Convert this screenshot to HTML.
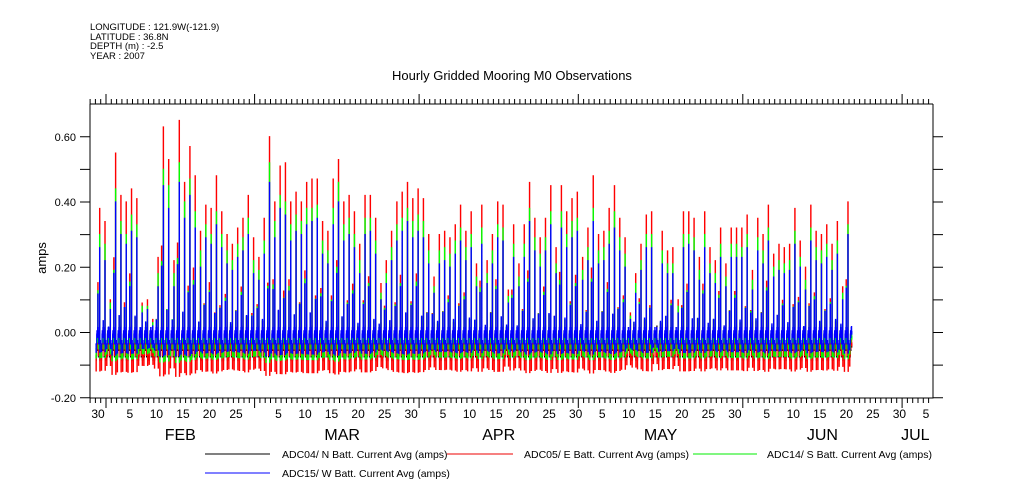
<!DOCTYPE html>
<html><head><meta charset="utf-8"><style>
body{margin:0;background:#fff;}
svg{display:block;font-family:"Liberation Sans",sans-serif;}
</style></head><body>
<svg id="chart" width="1009" height="504" viewBox="0 0 1009 504">
<g font-size="9.5" fill="#000">
<text x="90" y="30">LONGITUDE : 121.9W(-121.9)</text>
<text x="90" y="40">LATITUDE : 36.8N</text>
<text x="90" y="49">DEPTH (m) : -2.5</text>
<text x="90" y="59">YEAR : 2007</text>
</g>
<text x="512" y="80" font-size="13" text-anchor="middle">Hourly Gridded Mooring M0 Observations</text>
<text x="0" y="0" font-size="13" text-anchor="middle" transform="translate(46,258) rotate(-90)">amps</text>
<g id="series"></g>
<g id="axes"></g>
<g font-size="10.5">
<line x1="205" y1="454" x2="270" y2="454" stroke="#000" stroke-width="1"/>
<text x="282" y="458">ADC04/ N Batt. Current Avg (amps)</text>
<line x1="447" y1="454" x2="513" y2="454" stroke="#e00" stroke-width="1"/>
<text x="524" y="458">ADC05/ E Batt. Current Avg (amps)</text>
<line x1="693" y1="454" x2="757" y2="454" stroke="#0e0" stroke-width="1"/>
<text x="767" y="458">ADC14/ S Batt. Current Avg (amps)</text>
<line x1="205" y1="473" x2="270" y2="473" stroke="#00f" stroke-width="1"/>
<text x="282" y="477">ADC15/ W Batt. Current Avg (amps)</text>
</g>
</svg>
<script>
// Daily peak values (amps), day 0 = Jan 30 2007
const redPeak=[.38,.34,.10,.55,.42,.40,.44,.41,.09,.10,
.04,.23,.63,.53,.22,.65,.46,.57,.48,.31,
.39,.38,.48,.37,.30,.27,.32,.35,.42,.29,
.23,.35,.60,.40,.51,.52,.40,.43,.40,.46,
.47,.47,.34,.31,.47,.53,.40,.42,.37,.27,
.42,.42,.35,.15,.22,.31,.40,.43,.46,.41,
.44,.41,.30,.17,.30,.31,.29,.33,.39,.31,
.37,.21,.39,.22,.30,.40,.39,.13,.33,.21,
.33,.46,.35,.29,.35,.45,.26,.45,.37,.41,
.43,.23,.32,.48,.30,.31,.38,.45,.35,.29,
.06,.18,.27,.36,.37,-.02,.31,.25,.26,.10,
.37,.37,.35,.23,.37,.26,.22,.32,.21,.32,
.32,.32,.36,.19,.35,.30,.39,.24,.27,.26,
.27,.38,.28,.20,.39,.31,.30,.33,.27,.34,
.14,.40,.13];
const greenPeak=[.30,.27,.09,.44,.34,.30,.36,.33,.08,.08,
.03,.18,.50,.45,.18,.52,.40,.47,.37,.25,
.33,.30,.37,.30,.25,.22,.27,.29,.35,.22,
.19,.28,.52,.34,.42,.40,.33,.36,.34,.38,
.38,.39,.28,.25,.38,.46,.33,.35,.30,.22,
.35,.35,.28,.12,.18,.26,.33,.35,.38,.34,
.36,.34,.25,.14,.25,.26,.24,.28,.32,.26,
.30,.17,.32,.18,.25,.33,.32,.11,.27,.17,
.27,.38,.29,.24,.29,.37,.21,.37,.30,.34,
.35,.19,.26,.38,.25,.26,.31,.37,.29,.24,
.05,.15,.22,.30,.30,-.02,.25,.21,.21,.08,
.30,.30,.29,.19,.30,.21,.18,.27,.17,.27,
.27,.26,.30,.16,.29,.25,.32,.20,.22,.21,
.22,.31,.23,.16,.32,.26,.25,.27,.22,.28,
.12,.33,.10];
const bluePeak=[.26,.22,.07,.40,.30,.27,.31,.29,.06,.07,
.02,.14,.45,.38,.14,.46,.35,.42,.32,.20,
.29,.27,.33,.26,.21,.19,.23,.25,.30,.18,
.16,.24,.46,.29,.38,.36,.28,.31,.30,.33,
.34,.35,.24,.21,.33,.40,.28,.30,.26,.18,
.30,.31,.24,.10,.15,.22,.28,.31,.34,.29,
.31,.29,.21,.12,.21,.22,.20,.24,.28,.22,
.26,.14,.27,.15,.21,.29,.28,.09,.23,.14,
.23,.34,.25,.20,.25,.33,.18,.32,.26,.29,
.31,.16,.22,.34,.21,.22,.27,.32,.25,.20,
.04,.12,.19,.26,.26,-.03,.21,.18,.18,.06,
.26,.27,.25,.16,.26,.18,.15,.23,.14,.23,
.23,.23,.26,.13,.25,.21,.28,.17,.19,.18,
.19,.27,.20,.13,.28,.22,.21,.23,.19,.24,
.10,.30,.13];
const blackPeak=[.02,.01,.00,.03,.02,.02,.02,.02,.00,.00];
const baseValues=[-0.075,-0.07,-0.05,-0.035]; // black, red, green, blue
const dipValues=[-0.085,-0.095,-0.06,-0.045];
const yTicks=[-0.2,0.0,0.2,0.4,0.6];
const yTickLabels=["-0.20","0.00","0.20","0.40","0.60"];
const dayLabels=["30","5","10","15","20","25","5","10","15","20","25","30","5","10","15","20","25","30","5","10","15","20","25","30","5","10","15","20","25","30","5"];
const dayLabelDates=[-2,4,9,14,19,24,32,37,42,47,52,57,63,68,73,78,83,88,93,98,103,108,113,118,124,129,134,139,144,149,154];
const monthNames=["FEB","MAR","APR","MAY","JUN","JUL"];
const monthStarts=[0,28,59,89,120,150]; // days from Feb 1
const monthLabelPos=[14,30+14.5,59+15,89+15.5,120+15,152.5];

const X0=90,X1=933,Y0=104,Y1=398;
const feb1X=106,pxDay=5.307;
function xd(d){return feb1X+d*pxDay;}
function y(v){return 332.5-v*326.25;}
const NS="http://www.w3.org/2000/svg";
function mk(tag,attrs,parent){const e=document.createElementNS(NS,tag);for(const k in attrs)e.setAttribute(k,attrs[k]);parent.appendChild(e);return e;}

const sg=document.getElementById('series');
function seriesPath(peaks,idx){
  const b=baseValues[idx];
  let d='';const n=redPeak.length;
  for(let day=0;day<n;day++){
    const p=peaks[day%peaks.length];
    const dp=dipValues[idx]-0.06*Math.max(p,0);
    const sec=b+.02+(p-b)*(day%3===0?0.45:(day%3===1?0.2:0.3));
    const prof=[b,b,b,dp,b,b,b+.03,b+.04,b+.02,b+.03,b+.05,sec,b+.03,b+.04,b+.02,b,b,b+.01,b+.05,p,dp,b,b+.01,b];
    const hours=(day===n-1)?14:24;
    for(let h=0;h<hours;h++){
      const t=day-2+h/24,t2=day-2+(h+1)/24;
      const xa=xd(t).toFixed(2),xb=xd(t2).toFixed(2),yy=y(prof[h]).toFixed(2);
      d+=(d?'L':'M')+xa+','+yy+'L'+xb+','+yy;
    }
  }
  return d;
}
const sBlack=mk('path',{d:seriesPath(blackPeak,0),fill:'none',stroke:'#000','stroke-width':1},sg);


const sRed=mk('path',{d:seriesPath(redPeak,1),fill:'none',stroke:'#f00','stroke-width':1.2},sg);


const sGreen=mk('path',{d:seriesPath(greenPeak,2),fill:'none',stroke:'#0f0','stroke-width':1.2},sg);


const sBlue=mk('path',{d:seriesPath(bluePeak,3),fill:'none',stroke:'#00f','stroke-width':1.2},sg);



const ag=document.getElementById('axes');
const frame=mk('path',{d:`M${X0},${Y0}L${X0},${Y1}L${X1},${Y1}L${X1},${Y0}M${X0},${Y0}L${X1},${Y0}`,fill:'none',stroke:'#000','stroke-width':1},ag);


let tk='';
for(let d=-3;d<=157;d++){const x=xd(d);if(x<X0||x>X1)continue;const major=monthStarts.includes(d);const L=major?10:5;
  tk+=`M${x.toFixed(1)},${Y1}L${x.toFixed(1)},${Y1+L}M${x.toFixed(1)},${Y0}L${x.toFixed(1)},${Y0-L}`;}
for(let v=-0.2;v<=0.61;v+=0.1){const yy=y(v).toFixed(1);tk+=`M${X0-10},${yy}L${X0},${yy}M${X1},${yy}L${X1+10},${yy}`;}
const ticks=mk('path',{d:tk,fill:'none',stroke:'#000','stroke-width':1},ag);


yTicks.forEach((v,i)=>{const t=mk('text',{x:X0-14,y:y(v)+4,'font-size':11,'text-anchor':'end'},ag);t.textContent=yTickLabels[i];
  
  });
dayLabels.forEach((s,i)=>{const t=mk('text',{x:xd(dayLabelDates[i]+0.5),y:418,'font-size':12,'text-anchor':'middle'},ag);t.textContent=s;
  
  });
monthNames.forEach((s,i)=>{const t=mk('text',{x:xd(monthLabelPos[i]),y:440,'font-size':16,'text-anchor':'middle'},ag);t.textContent=s;
  
  });
</script>
</body></html>
